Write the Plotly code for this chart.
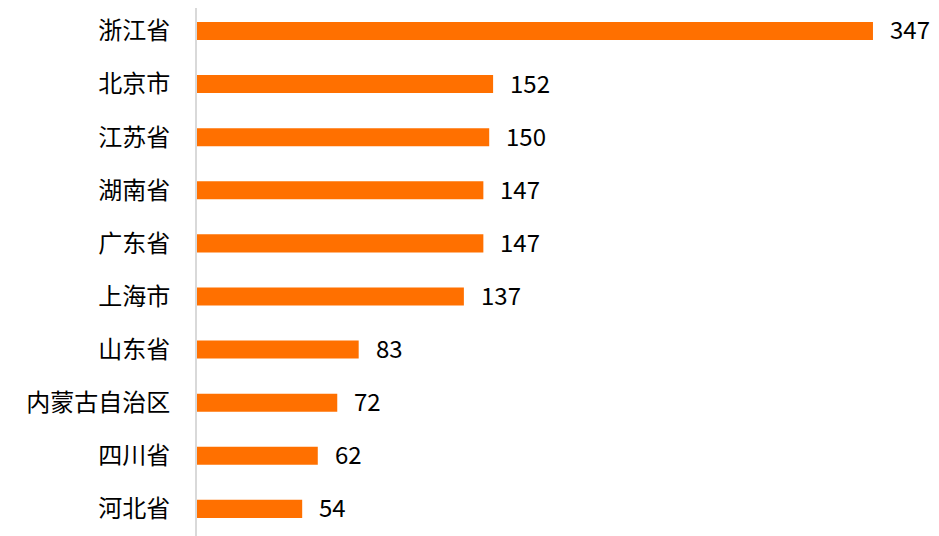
import plotly.graph_objects as go

categories = ["浙江省", "北京市", "江苏省", "湖南省", "广东省", "上海市", "山东省", "内蒙古自治区", "四川省", "河北省"]
values = [347, 152, 150, 147, 147, 137, 83, 72, 62, 54]

BAR_COLOR = "#FF7000"
FONT = "Noto Sans CJK SC, Microsoft YaHei, sans-serif"

fig = go.Figure()
fig.add_trace(go.Bar(
    y=categories,
    x=values,
    orientation="h",
    marker=dict(color=BAR_COLOR, line=dict(width=0)),
    width=0.34,
    hoverinfo="x+y",
))

for c, v in zip(categories, values):
    fig.add_annotation(
        x=v, y=c, text=str(v), showarrow=False,
        xanchor="left", yanchor="middle", xshift=15, yshift=2,
        font=dict(family=FONT, size=24, color="#000000"),
    )

fig.update_layout(
    width=939, height=536,
    margin=dict(l=189, r=0, t=0, b=0, autoexpand=False),
    paper_bgcolor="white",
    plot_bgcolor="white",
    showlegend=False,
    font=dict(family=FONT, size=24, color="#000000"),
    bargap=0.66,
)
fig.update_xaxes(
    range=[0, 385.0], showgrid=False, zeroline=False,
    showticklabels=False, showline=False, automargin=False,
)
fig.update_yaxes(
    range=[9.661, -0.433], showgrid=False, zeroline=False,
    showline=True, linecolor="#D9D9D9", linewidth=2,
    ticks="", ticklabelstandoff=20, automargin=False,
    tickfont=dict(family=FONT, size=24, color="#000000"),
)

fig.write_html("out.html")
